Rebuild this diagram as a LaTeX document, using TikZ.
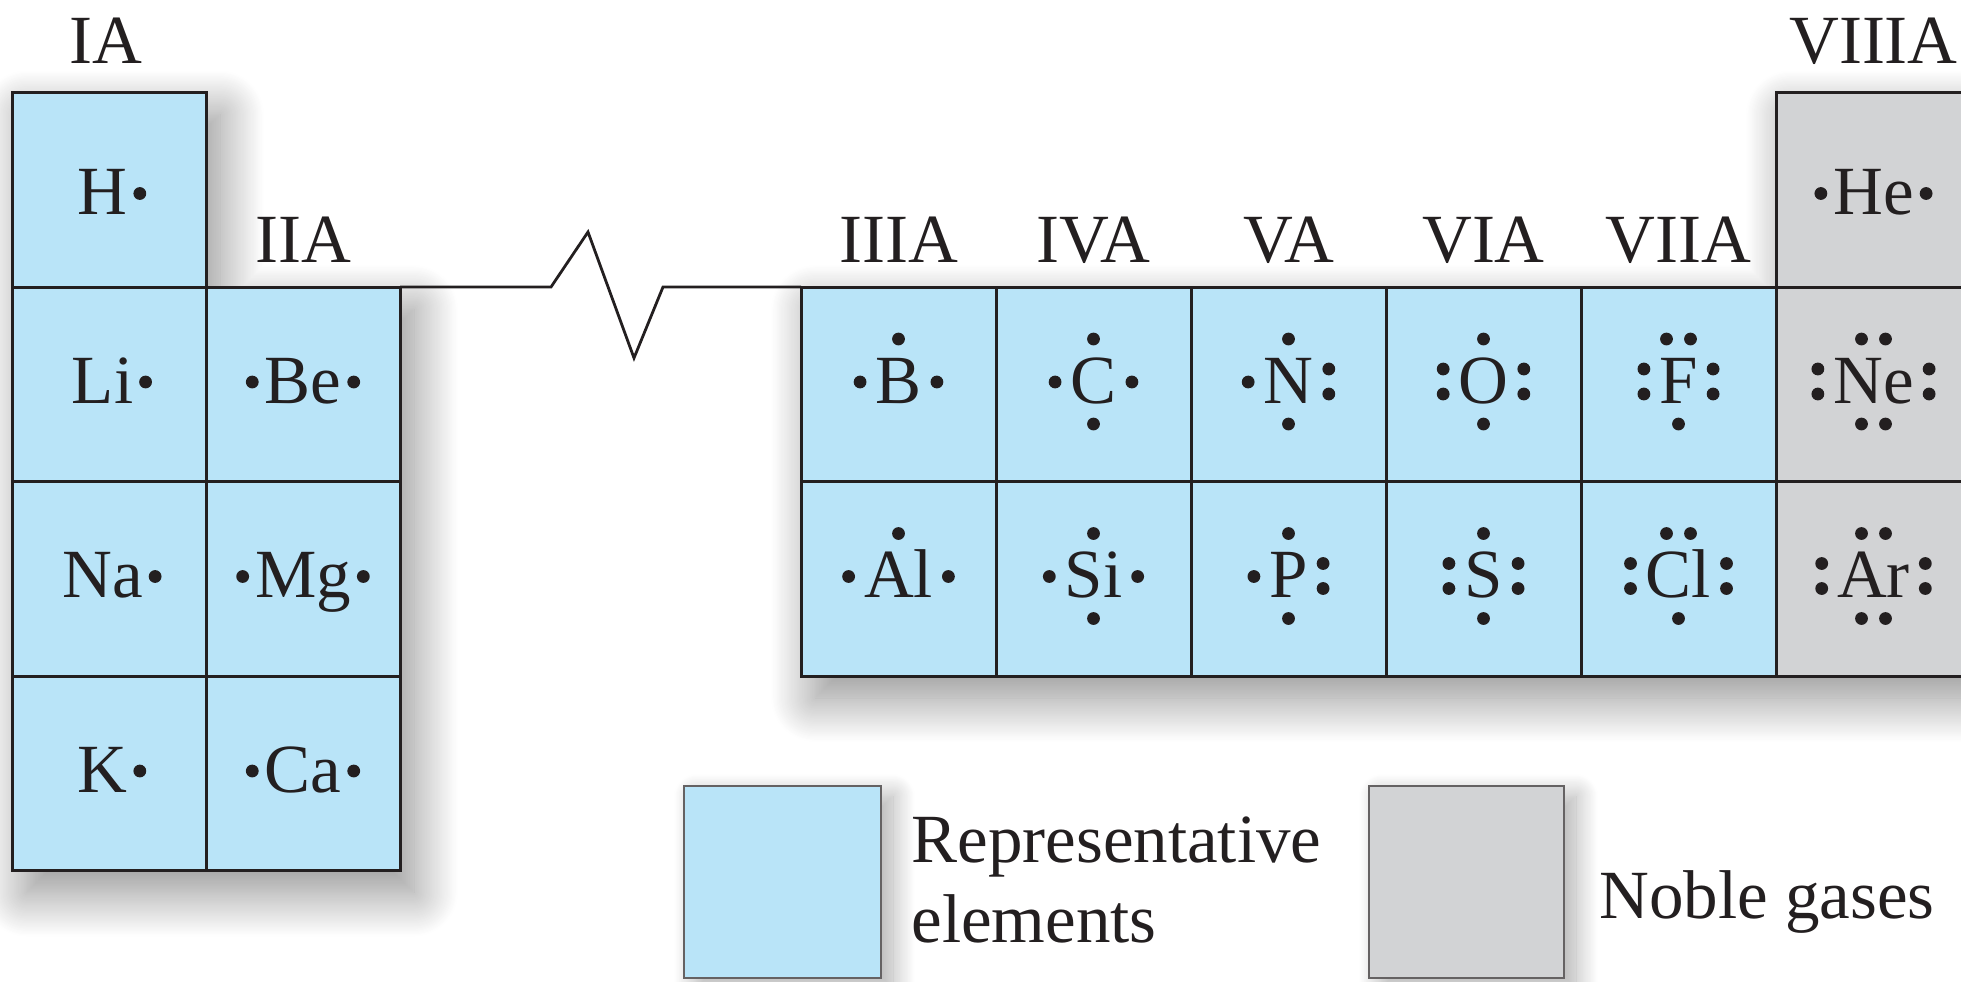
\documentclass[tikz,border=0pt]{standalone}
\usepackage{fontspec}
\setmainfont{Liberation Serif}
\usetikzlibrary{calc,shadows.blur}
\definecolor{repblue}{RGB}{185,228,248}
\definecolor{noblegray}{RGB}{210,211,213}
\definecolor{edgec}{RGB}{35,31,32}
\def\G{12}
\def\R{3.2pt}
\newcommand\lwT[1]{\fill[edgec] ($(#1.base)+(0,-64)$) circle[radius=\R];}
\newcommand\lwTT[1]{\fill[edgec] ($(#1.base)+(-12,-64)$) circle[radius=\R] ($(#1.base)+(12,-64)$) circle[radius=\R];}
\newcommand\lwB[1]{\fill[edgec] ($(#1.base)+(0,21)$) circle[radius=\R];}
\newcommand\lwBB[1]{\fill[edgec] ($(#1.base)+(-12,21)$) circle[radius=\R] ($(#1.base)+(12,21)$) circle[radius=\R];}
\newcommand\lwL[1]{\fill[edgec] ($(#1.base west)+(-\G,-21)$) circle[radius=\R];}
\newcommand\lwLL[1]{\fill[edgec] ($(#1.base west)+(-\G,-34)$) circle[radius=\R] ($(#1.base west)+(-\G,-9)$) circle[radius=\R];}
\newcommand\lwR[1]{\fill[edgec] ($(#1.base east)+(\G,-21)$) circle[radius=\R];}
\newcommand\lwRR[1]{\fill[edgec] ($(#1.base east)+(\G,-34)$) circle[radius=\R] ($(#1.base east)+(\G,-9)$) circle[radius=\R];}
\tikzset{
  sym/.style={font=\fontsize{34.5}{40}\selectfont, inner sep=0pt, anchor=base, text=edgec},
  grp/.style={font=\fontsize{34.5}{40}\selectfont, inner sep=0pt, anchor=base, text=edgec},
  leg/.style={font=\fontsize{34.5}{40}\selectfont, inner sep=0pt, anchor=base west, text=edgec},
  rep/.style={fill=repblue, draw=edgec, line width=1.5pt},
  nob/.style={fill=noblegray, draw=edgec, line width=1.5pt},
  legbox/.style={draw=edgec!70, line width=1pt},
  shad/.style={fill=white, blur shadow={shadow xshift=7pt, shadow yshift=-11pt, shadow blur radius=22pt, shadow opacity=45, shadow blur steps=40}},
  lshad/.style={fill=white, blur shadow={shadow xshift=6pt, shadow yshift=-5pt, shadow blur radius=11pt, shadow opacity=32, shadow blur steps=25}},
  brk/.style={draw=edgec, line width=1.4pt, line join=miter}
}
\begin{document}
\begin{tikzpicture}[x=0.5pt,y=-0.5pt]
\useasboundingbox (0,0) rectangle (1961,981);
\clip (0,0) rectangle (1961,981);
% shadows
\path[shad] (12.5,92.5) -- (206,92.5) -- (206,287) -- (400,287) -- (400,870.5) -- (12.5,870.5) -- cycle;
\path[shad] (801,287) -- (1776,287) -- (1776,92.5) -- (1971,92.5) -- (1971,676) -- (801,676) -- cycle;
\path[lshad] (684,786) rectangle (881,978);
\path[lshad] (1369,786) rectangle (1564,978);
% left block cells
\path[rep] (12.5,92.5) rectangle (206,287);
\foreach \r in {287,481.5,676} {
  \path[rep] (12.5,\r) rectangle ++(193.5,194.5);
  \path[rep] (206,\r) rectangle ++(194,194.5);
}
% right block cells
\foreach \c in {801,996,1191,1386,1581} {
  \path[rep] (\c,287) rectangle ++(195,194.5);
  \path[rep] (\c,481.5) rectangle ++(195,194.5);
}
\foreach \r in {92.5,287,481.5} {
  \path[nob] (1776,\r) rectangle ++(195,194.5);
}
% break line
\coordinate (b0) at (400,287);
\coordinate (b5) at (801,287);
\draw[brk] (b0) -- (551,287) -- (588,232) -- (634,358) -- (663,287) -- (b5);
% group labels
\node[grp] (gIA) at (106,63) {IA};
\node[grp] (gIIA) at (303,262) {IIA};
\node[grp] (gIIIA) at (898.5,262) {IIIA};
\node[grp] (gIVA) at (1093.5,262) {IVA};
\node[grp] (gVA) at (1288.5,262) {VA};
\node[grp] (gVIA) at (1483.5,262) {VIA};
\node[grp] (gVIIA) at (1678.5,262) {VIIA};
\node[grp] (gVIIIA) at (1873.5,63) {VIIIA};
% left elements
\def\G{12}
\node[sym] (H) at (102.5,214.5) {H}; \lwR{H}
\node[sym] (Li) at (102.5,403) {Li}; \lwR{Li}
\node[sym] (Na) at (102.5,597.5) {Na}; \lwR{Na}
\node[sym] (K) at (102.5,792) {K}; \lwR{K}
\node[sym] (Be) at (303,403) {Be}; \lwL{Be} \lwR{Be}
\node[sym] (Mg) at (303,597.5) {Mg}; \lwL{Mg} \lwR{Mg}
\node[sym] (Ca) at (303,792) {Ca}; \lwL{Ca} \lwR{Ca}
\node[sym] (He) at (1873.5,214.5) {He}; \lwL{He} \lwR{He}
% p-block
\def\G{15}
\node[sym] (B) at (898.5,403) {B}; \lwT{B} \lwL{B} \lwR{B}
\node[sym] (C) at (1093.5,403) {C}; \lwT{C} \lwB{C} \lwL{C} \lwR{C}
\node[sym] (N) at (1288.5,403) {N}; \lwT{N} \lwB{N} \lwL{N} \lwRR{N}
\node[sym] (O) at (1483.5,403) {O}; \lwT{O} \lwB{O} \lwLL{O} \lwRR{O}
\node[sym] (F) at (1678.5,403) {F}; \lwTT{F} \lwB{F} \lwLL{F} \lwRR{F}
\node[sym] (Ne) at (1873.5,403) {Ne}; \lwTT{Ne} \lwBB{Ne} \lwLL{Ne} \lwRR{Ne}
\node[sym] (Al) at (898.5,597.5) {Al}; \lwT{Al} \lwL{Al} \lwR{Al}
\node[sym] (Si) at (1093.5,597.5) {Si}; \lwT{Si} \lwB{Si} \lwL{Si} \lwR{Si}
\node[sym] (P) at (1288.5,597.5) {P}; \lwT{P} \lwB{P} \lwL{P} \lwRR{P}
\node[sym] (S) at (1483.5,597.5) {S}; \lwT{S} \lwB{S} \lwLL{S} \lwRR{S}
\node[sym] (Cl) at (1678.5,597.5) {Cl}; \lwTT{Cl} \lwB{Cl} \lwLL{Cl} \lwRR{Cl}
\node[sym] (Ar) at (1873.5,597.5) {Ar}; \lwTT{Ar} \lwBB{Ar} \lwLL{Ar} \lwRR{Ar}
% legend
\path[legbox, fill=repblue] (684,786) rectangle (881,978);
\path[legbox, fill=noblegray] (1369,786) rectangle (1564,978);
\node[leg] (lrep1) at (911,862) {Representative};
\node[leg] (lrep2) at (911,942) {elements};
\node[leg] (lnob) at (1599,918) {Noble gases};
\end{tikzpicture}
\end{document}
